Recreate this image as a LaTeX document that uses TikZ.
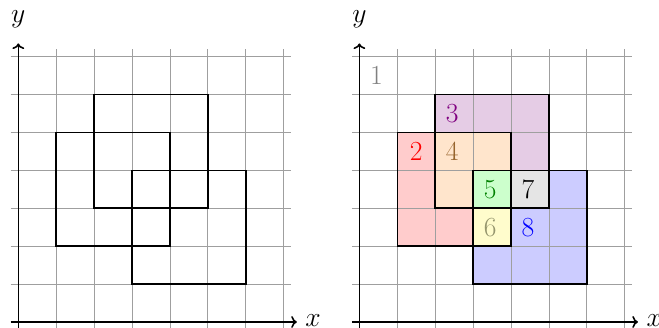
\documentclass[tikz,border=0pt]{standalone}
\usepackage{tikz}
\usetikzlibrary{arrows.meta}
\definecolor{olivetext}{RGB}{150, 150, 110}
\definecolor{browntext}{RGB}{150, 100, 45}

\begin{document}
\begin{tikzpicture}[
    gridline/.style={draw=gray!75, line width=0.55pt},
    axisline/.style={->, line width=1.2pt},
    squareline/.style={line width=1.2pt},
    axislabel/.style={font=\huge},
    regionlabel/.style={font=\huge}
]
    \useasboundingbox (-0.483,-0.158) rectangle (16.905,8.496);

    % Left panel: grid and axes
    \draw[gridline] (-0.2,-0.2) grid (7.2,7.2);
    \draw[axisline] (-0.2,0) -- (7.35,0);
    \draw[axisline] (0,-0.2) -- (0,7.35);
    \node[axislabel] (xlabelL) at (7.78,0.03) {$x$};
    \node[axislabel] (ylabelL) at (0,8.0) {$y$};

    % Left panel: the three squares
    \draw[squareline] (1,2) rectangle (4,5);
    \draw[squareline] (2,3) rectangle (5,6);
    \draw[squareline] (3,1) rectangle (6,4);

    % Right panel, shifted by nine units
    \begin{scope}[xshift=9cm]
        % Regions of the overlap
        \fill[red!20] (1,2) -- (3,2) -- (3,3) -- (2,3) -- (2,5) -- (1,5) -- cycle;
        \fill[violet!20] (2,5) -- (4,5) -- (4,4) -- (5,4) -- (5,6) -- (2,6) -- cycle;
        \fill[orange!20] (2,3) -- (3,3) -- (3,4) -- (4,4) -- (4,5) -- (2,5) -- cycle;
        \fill[green!20] (3,3) rectangle (4,4);
        \fill[yellow!20] (3,2) rectangle (4,3);
        \fill[gray!20] (4,3) rectangle (5,4);
        \fill[blue!20] (3,1) -- (6,1) -- (6,4) -- (5,4) -- (5,3) -- (4,3) -- (4,2) -- (3,2) -- cycle;

        % Grid and axes
        \draw[gridline] (-0.2,-0.2) grid (7.2,7.2);
        \draw[axisline] (-0.2,0) -- (7.35,0);
        \draw[axisline] (0,-0.2) -- (0,7.35);
        \node[axislabel] (xlabelR) at (7.78,0.03) {$x$};
        \node[axislabel] (ylabelR) at (0,8.0) {$y$};

        % Square outlines
        \draw[squareline] (1,2) rectangle (4,5);
        \draw[squareline] (2,3) rectangle (5,6);
        \draw[squareline] (3,1) rectangle (6,4);

        % Region numbers
        \node[regionlabel, gray] (reg1) at (0.45,6.5) {1};
        \node[regionlabel, red] (reg2) at (1.5,4.5) {2};
        \node[regionlabel, violet] (reg3) at (2.45,5.5) {3};
        \node[regionlabel, browntext] (reg4) at (2.45,4.5) {4};
        \node[regionlabel, green!50!black] (reg5) at (3.45,3.5) {5};
        \node[regionlabel, olivetext] (reg6) at (3.45,2.5) {6};
        \node[regionlabel, black] (reg7) at (4.45,3.5) {7};
        \node[regionlabel, blue] (reg8) at (4.45,2.5) {8};
    \end{scope}
\end{tikzpicture}
\end{document}
